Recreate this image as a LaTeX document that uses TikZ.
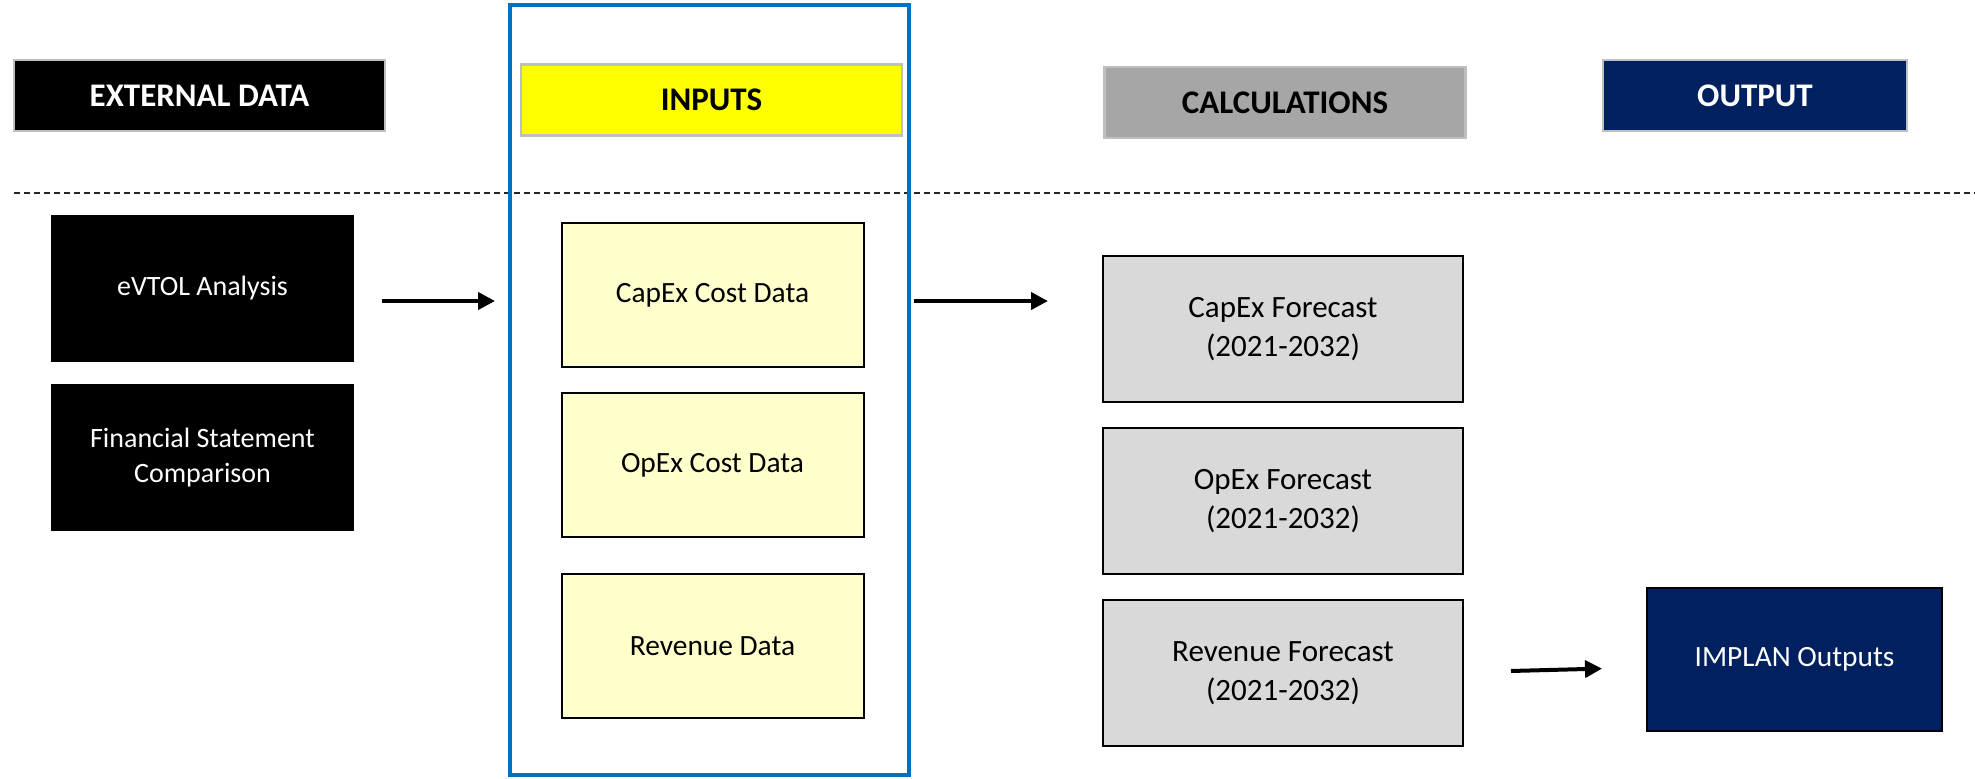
\documentclass[tikz,border=0pt]{standalone}
\usepackage{fontspec}
\setmainfont{Carlito}
\usetikzlibrary{arrows.meta,positioning}
\definecolor{ink}{HTML}{000000}
\definecolor{rim}{HTML}{BFBFBF}
\definecolor{inhead}{HTML}{FFFF00}
\definecolor{infill}{HTML}{FFFFCC}
\definecolor{calchead}{HTML}{A6A6A6}
\definecolor{calcfill}{HTML}{D9D9D9}
\definecolor{navy}{HTML}{002060}
\definecolor{frameblue}{HTML}{0070C0}
\tikzset{
  >={Triangle[length=8.5pt,width=8.5pt]},
  every node/.style={text=ink},
  hdr/.style={draw=rim,line width=1.2pt,minimum height=35.5pt,align=center,inner sep=2pt,font=\fontsize{16.5}{19}\selectfont\bfseries},
  exthdr/.style={hdr,fill=black,text=white,minimum width=185.5pt},
  inhdr/.style={hdr,fill=inhead,minimum width=190.5pt},
  calchdr/.style={hdr,fill=calchead,minimum width=180.5pt},
  outhdr/.style={hdr,fill=navy,text=white,minimum width=152pt},
  box/.style={draw=ink,line width=1pt,minimum width=150pt,minimum height=72pt,align=center,inner sep=3pt,font=\fontsize{14.7}{18}\selectfont},
  extbox/.style={box,fill=black,text=white,draw=black,minimum width=150.5pt,minimum height=72.5pt,font=\fontsize{14}{17.6}\selectfont},
  inbox/.style={box,fill=infill,minimum width=151pt},
  calcbox/.style={box,fill=calcfill,minimum width=180pt,minimum height=73pt,font=\fontsize{15.5}{19.5}\selectfont},
  outbox/.style={box,fill=navy,text=white,minimum width=147.5pt,minimum height=71.5pt},
  inframe/.style={draw=frameblue,line width=2pt,minimum width=199.5pt,minimum height=385pt},
  arrow/.style={->,line width=2pt,draw=ink},
  divider/.style={draw=ink!85,line width=0.75pt,dash pattern=on 3pt off 2pt},
}
\begin{document}
\begin{tikzpicture}[x=0.5pt,y=-0.5pt,node distance=12pt]
\useasboundingbox (0,0) rectangle (1975,778);
% column headers
\node[exthdr] (exthead) at (199.5,95.5) {EXTERNAL DATA};
\node[inhdr] (inhead) at (711.5,100) {INPUTS};
\node[calchdr] (calchead) at (1285,102.5) {CALCULATIONS};
\node[outhdr] (outhead) at (1755,95.5) {OUTPUT};
\coordinate (divl) at (14,193);
\coordinate (divr) at (1975,193);
\draw[divider] (divl) -- (divr);
% external data
\node[extbox] (evtol) at (202.5,288.5) {eVTOL Analysis};
\node[extbox,below=11pt of evtol] (fin) {Financial Statement\\Comparison};
% inputs
\node[inbox] (capin) at (712.5,295) {CapEx Cost Data};
\node[inbox,below=of capin] (opin) {OpEx Cost Data};
\node[inbox,below=17.5pt of opin] (revin) {Revenue Data};
\node[inframe] (frame) at (709.5,390) {};
% calculations
\node[calcbox] (capf) at (1283,329) {CapEx Forecast\\(2021-2032)};
\node[calcbox,below=of capf] (opf) {OpEx Forecast\\(2021-2032)};
\node[calcbox,below=of opf] (revf) {Revenue Forecast\\(2021-2032)};
% output
\node[outbox] (implan) at (1794.5,659.5) {IMPLAN Outputs};
% flow
\draw[arrow,transform canvas={yshift=-3pt},shorten <=14pt,shorten >=6.5pt] (evtol.east |- capin.west) -- (frame.west |- capin.west);
\draw[arrow,transform canvas={yshift=-3pt},shorten <=1.5pt,shorten >=27pt] (frame.east |- capin.east) -- (capf.west |- capin.east);
\draw[arrow,transform canvas={yshift=-2pt},shorten <=23.5pt,shorten >=22pt] (revf) -- (implan);
\end{tikzpicture}
\end{document}
